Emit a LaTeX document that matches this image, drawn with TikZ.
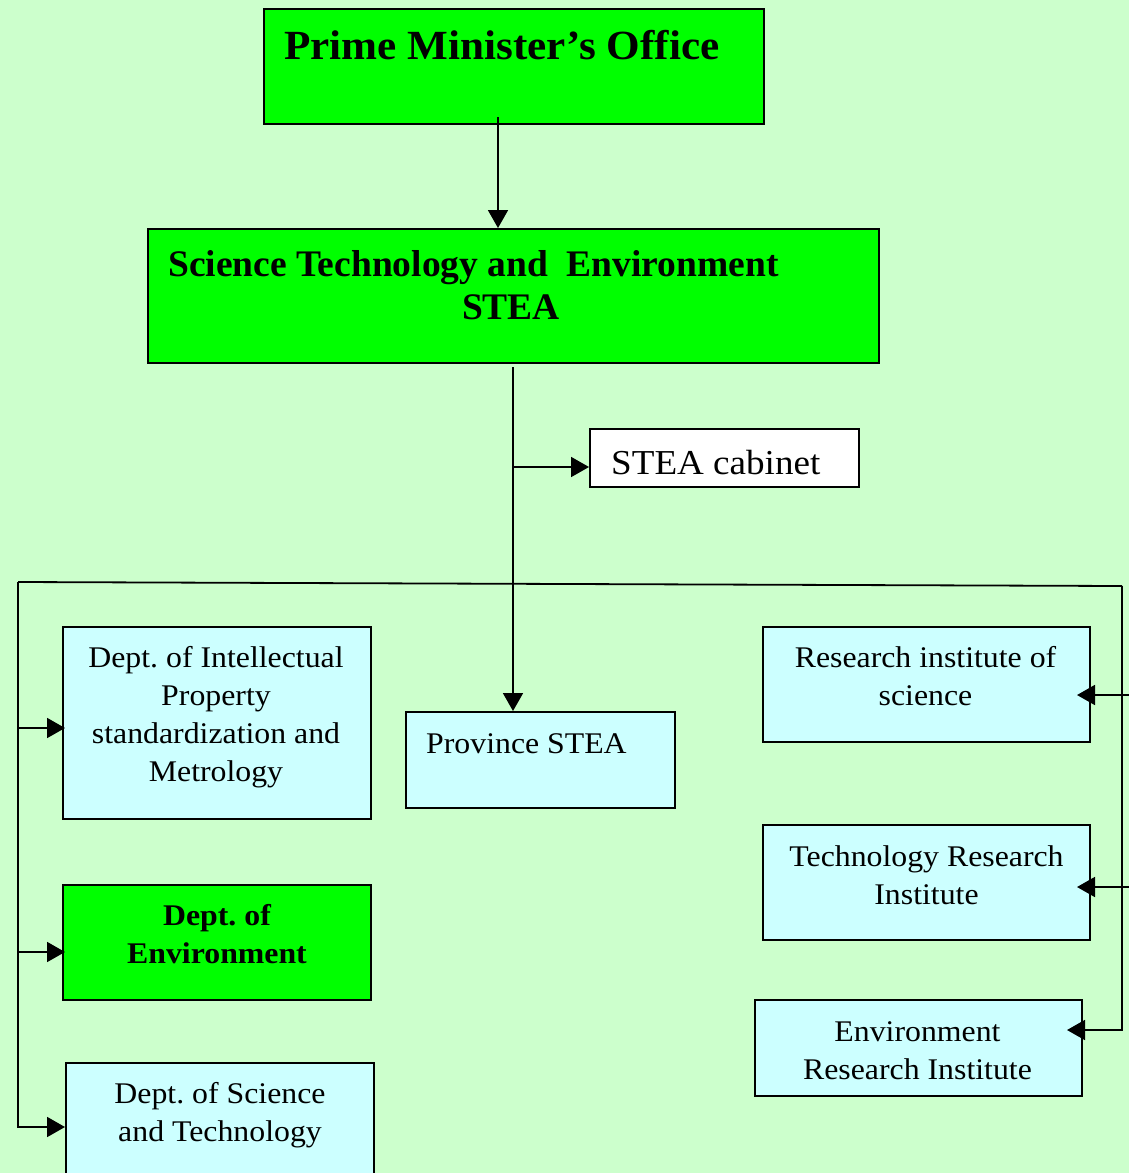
\documentclass[tikz,border=0pt]{standalone}
\usepackage{fontspec}
\setmainfont{Liberation Serif}
\newfontfamily\bodyfont[FakeStretch=1.06]{Liberation Serif}
\newfontfamily\headfont[FakeStretch=1.04]{Liberation Serif}
\usetikzlibrary{arrows.meta,calc}
\definecolor{bg}{HTML}{CCFFCC}
\definecolor{gbox}{HTML}{00FF00}
\definecolor{cbox}{HTML}{CCFFFF}
\frenchspacing
\begin{document}
\begin{tikzpicture}[x=1pt,y=-1pt,
  box/.style={draw=black,line width=2pt,anchor=north west,inner sep=0pt},
  gbx/.style={box,fill=gbox},
  cbx/.style={box,fill=cbox},
  conn/.style={line width=1.8pt},
  arr/.style={conn,-{Triangle[length=18pt,width=20pt]}},
  body/.style={inner sep=0pt,align=center,font=\bodyfont\fontsize{30}{38}\selectfont},
  bodyb/.style={inner sep=0pt,align=center,font=\bodyfont\fontsize{30}{38}\selectfont\bfseries},
  lbl/.style={inner sep=0pt}]
\fill[bg] (0,0) rectangle (1129,1173);
\useasboundingbox (0,0) rectangle (1129,1173);

% boxes
\node[gbx,minimum width=500pt,minimum height=115pt] (pmo) at (263,8) {};
\node[lbl,anchor=base west,font=\headfont\fontsize{41.5}{49}\selectfont\bfseries] (pmot) at (284,59) {Prime Minister’s Office};

\node[gbx,minimum width=731pt,minimum height=134pt] (stea) at (147,228) {};
\node[lbl,anchor=base west,font=\fontsize{37.5}{44}\selectfont\bfseries] (stea1) at (168,276) {Science Technology and\ \ Environment};
\node[lbl,anchor=base,font=\fontsize{37.5}{44}\selectfont\bfseries] (stea2) at (511,319) {STEA};

\node[box,fill=white,minimum width=269pt,minimum height=58pt] (cab) at (589,428) {};
\node[lbl,anchor=base west,font=\bodyfont\fontsize{35}{42}\selectfont] (cabt) at (611,474) {STEA cabinet};

\node[cbx,minimum width=269pt,minimum height=96pt] (prov) at (405,711) {};
\node[lbl,anchor=base west,font=\bodyfont\fontsize{30}{38}\selectfont] (provt) at (426,753) {Province STEA};

\node[cbx,minimum width=308pt,minimum height=192pt] (ip) at (62,626) {};
\node[body] (ipt) at ($(ip.center)+(-1,-6)$) {Dept. of Intellectual\\Property\\standardization and\\Metrology};

\node[gbx,minimum width=308pt,minimum height=115pt] (env) at (62,884) {};
\node[bodyb] (envt) at ($(env.center)+(0,-8)$) {Dept. of\\Environment};

\node[cbx,minimum width=308pt,minimum height=115pt] (st) at (65,1062) {};
\node[body] (stt) at ($(st.center)+(0,-5)$) {Dept. of Science\\and Technology};

\node[cbx,minimum width=327pt,minimum height=115pt] (ri) at (762,626) {};
\node[body] (rit) at ($(ri.center)+(-1,-8)$) {Research institute of\\science};

\node[cbx,minimum width=327pt,minimum height=115pt] (tri) at (762,824) {};
\node[body] (trit) at ($(tri.center)+(0,-7)$) {Technology Research\\Institute};

\node[cbx,minimum width=327pt,minimum height=96pt] (eri) at (754,999) {};
\node[body] (erit) at ($(eri.center)+(-1,3)$) {Environment\\Research Institute};

% connectors
\coordinate (pmoout) at (498,117);
\draw[arr] (pmoout) -- (pmoout |- stea.north);

\coordinate (trunk) at (513,367);
\draw[arr] (trunk) -- (trunk |- prov.north);
\coordinate (cabj) at (513,467);
\draw[arr] (cabj) -- (cabj -| cab.west);

\coordinate (bl) at (18,582);
\coordinate (br) at (1122,586);
\draw[conn] (bl) -- (br);

\coordinate (lj1) at (18,728);
\coordinate (lj2) at (18,952);
\draw[arr] (bl) |- (st.west |- 0,1127);
\draw[arr,shorten >=-3pt] (lj1) -- (ip.west |- 0,728);
\draw[arr,shorten >=-3pt] (lj2) -- (env.west |- 0,952);

\coordinate (rj1) at (1129,695);
\coordinate (rj2) at (1129,887);
\draw[arr,shorten >=-16pt] (br) |- (eri.east |- 0,1030);
\draw[arr,shorten >=-14pt] (rj1) -- (ri.east |- 0,695);
\draw[arr,shorten >=-14pt] (rj2) -- (tri.east |- 0,887);
\end{tikzpicture}
\end{document}
